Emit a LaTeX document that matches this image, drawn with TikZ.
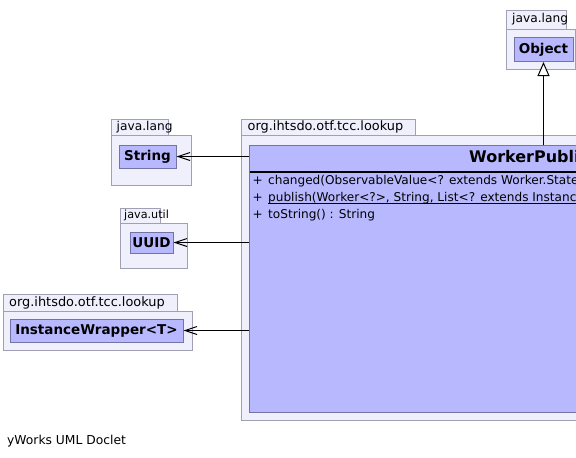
\documentclass[tikz,border=0pt]{standalone}
\usepackage{fontspec}
\setmainfont{DejaVu Sans}
\usetikzlibrary{arrows.meta}
\definecolor{pkgfill}{RGB}{240,240,252}
\definecolor{pkgline}{RGB}{160,160,180}
\definecolor{clsfill}{RGB}{184,184,255}
\definecolor{clsline}{RGB}{115,115,165}
\begin{document}
\begin{tikzpicture}[x=1pt,y=-1pt,
  pkg/.style={draw=pkgline, fill=pkgfill, line width=1pt},
  pkglabel/.style={anchor=west, inner sep=0pt, font=\fontsize{#1}{14}\selectfont},
  pkglabel/.default=12.6,
  cls/.style={draw=clsline, fill=clsfill, line width=1pt, inner sep=0pt, font=\fontsize{13.5}{15}\selectfont\bfseries},
  meth/.style={anchor=base west, inner sep=0pt, font=\fontsize{12.1}{14}\selectfont},
  dep/.style={draw, line width=1pt, -{Straight Barb[length=12pt,width=8pt]}},
  gen/.style={draw, line width=1pt, -{Triangle[open, length=14pt, width=12pt, fill=white]}},
]
\useasboundingbox (0,0) rectangle (576,458);
\clip (0,0) rectangle (576,458);

% package java.lang (Object)
\draw[pkg] (506,10) rectangle (566,29);
\draw[pkg] (506,29) rectangle (575.5,69);
\node[pkglabel=12.2] (objpkg) at (512,19.5) {java.lang};
\node[cls, minimum width=59pt, minimum height=24pt] (object) at (543.5,49.5) {Object};

% package org.ihtsdo.otf.tcc.lookup (main)
\draw[pkg] (241,119) rectangle (415,135);
\draw[pkg] (241,135) rectangle (800,420);
\node[pkglabel=12.9] (mainpkg) at (247.5,127) {org.ihtsdo.otf.tcc.lookup};
\node[cls, anchor=north west, minimum width=500pt, minimum height=267pt] (worker) at (249,145) {};
\draw[line width=1.6pt] (249.5,172) -- (760,172);
\node[anchor=base west, inner sep=0pt, font=\fontsize{16}{18}\selectfont\bfseries] (title) at (469,162) {WorkerPublisher};
\node[meth] (p1) at (252.5,184) {+};
\node[meth] (m1) at (268,184) {changed(ObservableValue<? extends Worker.State};
\node[meth] (p2) at (252.5,201) {+};
\node[meth] (m2) at (268,201) {publish(Worker<?>, String, List<? extends Instance};
\draw[line width=0.8pt] ([yshift=-2.4pt]m2.base west) -- ([yshift=-2.4pt]m2.base east);
\node[meth] (p3) at (252.5,218) {+};
\node[meth] (m3) at (268,218) {toString() : String};

% package java.lang (String)
\draw[pkg] (111,119) rectangle (168,135);
\draw[pkg] (111,135) rectangle (191,185);
\node[pkglabel=12.2] (strpkg) at (116.5,127) {java.lang};
\node[cls, minimum width=57pt, minimum height=23pt] (string) at (147.5,156.5) {String};

% package java.util (UUID)
\draw[pkg] (120,208) rectangle (160,223);
\draw[pkg] (120,223) rectangle (187,268);
\node[pkglabel=11.2] (utilpkg) at (124,215.5) {java.util};
\node[cls, minimum width=43pt, minimum height=21pt] (uuid) at (151.5,242.5) {UUID};

% package org.ihtsdo.otf.tcc.lookup (InstanceWrapper)
\draw[pkg] (3,294) rectangle (177,311);
\draw[pkg] (3,311) rectangle (192,350);
\node[pkglabel=12.9] (iwpkg) at (9,302.5) {org.ihtsdo.otf.tcc.lookup};
\node[cls, minimum width=173pt, minimum height=23pt] (iw) at (96.5,330.5) {InstanceWrapper<T>};

% connectors
\draw[dep] (string.east -| worker.west) -- (string.east);
\draw[dep] (uuid.east -| worker.west) -- (uuid.east);
\draw[dep] (iw.east -| worker.west) -- (iw.east);
\draw[gen] (worker.north -| object.south) -- (object.south);

\node[anchor=base west, inner sep=0pt, font=\fontsize{12.3}{14}\selectfont] (footer) at (7,444) {yWorks UML Doclet};
\end{tikzpicture}
\end{document}
